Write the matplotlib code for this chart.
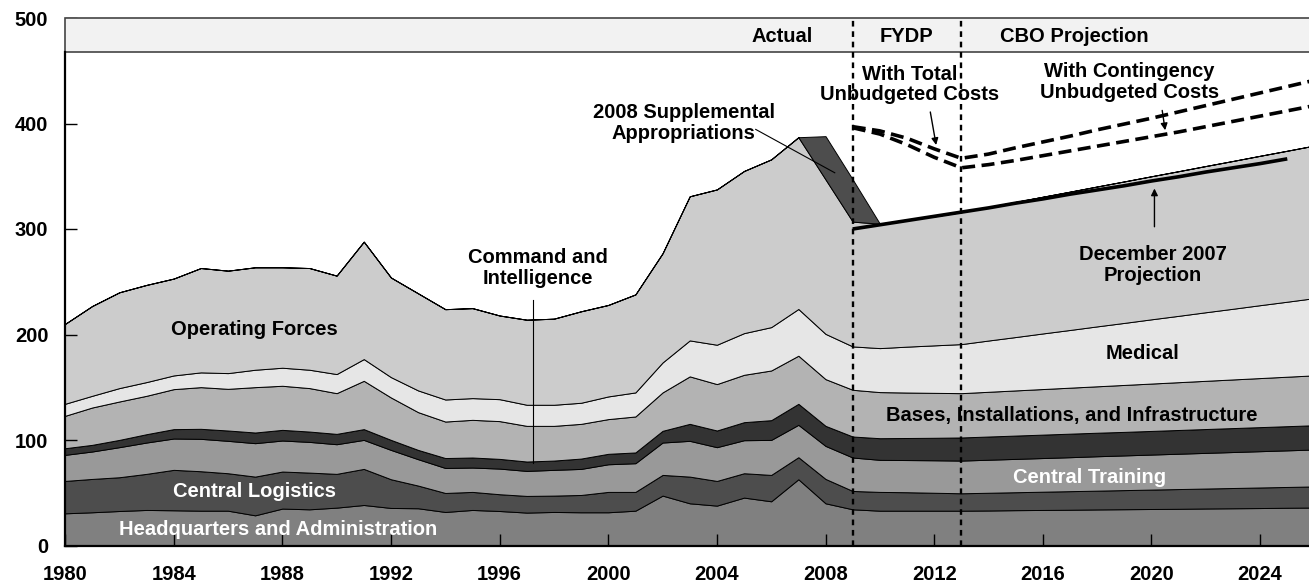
import matplotlib
matplotlib.use("Agg")
import matplotlib.pyplot as plt
from matplotlib.patches import Rectangle
import numpy as np

years = np.arange(1980, 2027)

# billions of dollars, by category (stacked bottom to top)
hq = [30.5, 31.5, 32.7, 33.7, 33.4, 33.0, 33.0, 28.6, 35.0, 34.3, 35.9, 38.4, 35.6, 35.3, 31.8,
      33.7, 32.7, 31.2, 31.8, 31.5, 31.5, 33.0, 47.3, 40.0, 37.8, 45.4, 41.9, 62.8, 40.0, 34.3,
      33.0, 33.0, 33.0, 33.0, 33.2, 33.5, 33.7, 33.9, 34.2, 34.4, 34.6, 34.8, 35.1, 35.3, 35.5,
      35.8, 36.0]
logistics = [30.7, 31.6, 32.0, 34.2, 38.3, 37.4, 35.5, 36.7, 35.1, 34.8, 32.0, 34.2, 27.2, 21.5, 18.0,
             17.1, 15.9, 15.8, 15.5, 16.4, 19.3, 17.8, 19.6, 25.3, 23.4, 23.1, 25.0, 20.9, 23.1, 17.4,
             17.8, 17.5, 17.0, 16.5, 16.8, 17.0, 17.3, 17.6, 17.8, 18.1, 18.4, 18.7, 18.9, 19.2, 19.5,
             19.7, 20.0]
training = [24.7, 26.0, 28.5, 29.7, 29.7, 30.7, 30.7, 31.7, 29.4, 29.1, 28.1, 27.5, 27.8, 25.0, 23.7,
            23.1, 24.3, 23.7, 24.4, 24.7, 26.2, 27.2, 30.7, 33.9, 32.0, 31.3, 33.2, 30.7, 31.3, 31.7,
            30.4, 30.5, 30.8, 31.0, 31.3, 31.6, 31.9, 32.2, 32.6, 32.9, 33.2, 33.5, 33.8, 34.1, 34.4,
            34.7, 35.0]
command = [6.3, 6.3, 6.9, 7.9, 8.9, 9.5, 9.8, 10.1, 10.1, 9.8, 9.8, 10.2, 9.5, 8.8, 9.4,
           9.5, 9.2, 8.9, 8.8, 9.8, 9.9, 10.2, 11.1, 16.1, 15.8, 17.1, 18.7, 19.9, 19.0, 19.9,
           20.5, 20.9, 21.3, 21.9, 22.0, 22.1, 22.2, 22.3, 22.3, 22.3, 22.4, 22.5, 22.6, 22.7, 22.8,
           22.9, 23.0]
bases = [30.7, 35.4, 36.4, 36.4, 37.9, 39.5, 39.5, 43.0, 41.8, 41.2, 38.6, 45.8, 40.2, 35.8, 34.6,
         35.7, 35.8, 33.8, 32.9, 32.9, 32.9, 34.1, 36.4, 45.0, 44.0, 44.9, 47.1, 45.6, 44.3, 44.3,
         43.7, 43.1, 42.6, 42.0, 42.4, 42.8, 43.2, 43.6, 44.0, 44.5, 44.9, 45.3, 45.7, 46.1, 46.5,
         46.9, 47.3]
medical = [11.4, 11.1, 12.7, 13.0, 13.0, 14.0, 14.9, 16.5, 17.1, 17.4, 18.1, 20.6, 19.3, 20.6, 20.9,
           20.6, 20.8, 20.0, 20.0, 20.0, 21.5, 22.8, 28.4, 34.1, 37.3, 39.5, 41.1, 44.3, 42.9, 41.1,
           41.7, 43.5, 45.0, 46.5, 48.6, 50.6, 52.7, 54.7, 56.8, 58.8, 60.9, 62.9, 65.0, 67.0, 69.1,
           71.1, 73.2]
operating = [75.7, 85.1, 90.8, 92.1, 91.8, 98.9, 97.1, 97.1, 95.2, 96.4, 93.3, 111.3, 94.4, 92.0, 85.6,
             85.3, 79.3, 80.6, 81.6, 86.7, 86.7, 92.9, 103.5, 136.6, 147.2, 153.7, 159.0, 162.8, 146.4, 118.3,
             117.9, 120.5, 122.3, 125.1, 126.6, 128.1, 129.6, 131.1, 132.6, 134.1, 135.6, 137.1, 138.6, 140.1, 141.6,
             143.1, 144.6]
supplemental = [0] * 28 + [41, 40] + [0] * 17

proj_years = np.arange(2009, 2026)
dec2007 = [300, 304, 308, 312, 316, 320, 324.5, 328.5, 333, 337, 341, 345.5, 349.5, 354, 358, 362, 366.5]

unb_years = np.arange(2009, 2027)
total_unbudgeted = [397, 393, 386, 376, 367, 371, 377, 382.5, 388, 394, 399.5, 405, 411, 417, 423, 429, 435, 441]
contingency_unbudgeted = [396, 390, 380, 368, 358, 361, 365, 369.5, 374, 378.5, 383, 387.5, 392, 397, 402, 407, 412, 417]

colors = ['#808080', '#4d4d4d', '#999999', '#333333', '#b3b3b3', '#e6e6e6', '#cccccc', '#4d4d4d']

plt.rcParams['font.family'] = ['Liberation Sans', 'DejaVu Sans']
plt.rcParams['font.weight'] = 'bold'
fs = 14.5

fig = plt.figure(figsize=(13.09, 5.83), dpi=100)
ax = fig.add_axes([65 / 1309, 1 - 545.5 / 583, 1 - 65 / 1309, (545.5 - 18) / 583])

ax.stackplot(years, hq, logistics, training, command, bases, medical, operating, supplemental,
             colors=colors, edgecolor='black', linewidth=0.7, zorder=1)

ax.plot(proj_years, dec2007, color='black', lw=2.6, solid_capstyle='butt', zorder=4)
ax.plot(unb_years, total_unbudgeted, color='black', lw=2.6, linestyle=(0, (3.6, 1.8)), zorder=4)
ax.plot(unb_years, contingency_unbudgeted, color='black', lw=2.6, linestyle=(0, (3.6, 1.8)), zorder=4)

# header band
ax.add_patch(Rectangle((1980, 468), 50, 32, facecolor='#f2f2f2', edgecolor='#444444', lw=1.2,
                       zorder=3, clip_on=False))
for xv in [2009, 2013]:
    ax.axvline(xv, color='black', lw=1.7, linestyle=(0, (2.4, 2.0)), zorder=5)

ax.set_xlim(1980, 2025.8)
ax.set_ylim(0, 500)
ax.set_xticks(range(1980, 2025, 4))
ax.set_yticks(range(0, 501, 100))
ax.tick_params(axis='both', direction='in', length=8.5, width=1, labelsize=fs)
ax.tick_params(axis='x', pad=14)
ax.tick_params(axis='y', pad=12)
for lab in ax.get_xticklabels() + ax.get_yticklabels():
    lab.set_fontweight('bold')
ax.spines['top'].set_visible(False)
ax.spines['right'].set_visible(False)
ax.spines['left'].set_bounds(0, 468)
ax.spines['left'].set_linewidth(1.6)
ax.spines['bottom'].set_linewidth(1.6)
ax.spines['left'].set_zorder(6)
ax.spines['bottom'].set_zorder(6)

kw = dict(ha='center', va='center', fontsize=fs, fontweight='bold', linespacing=1.1, zorder=7)
ax.text(2006.39, 482, 'Actual', **kw)
ax.text(2010.99, 482, 'FYDP', **kw)
ax.text(2017.17, 482, 'CBO Projection', **kw)

ax.text(2011.1, 437, 'With Total\nUnbudgeted Costs', **kw)
ax.annotate('', xy=(2012.09, 377), xytext=(2011.84, 413.5),
            arrowprops=dict(arrowstyle='-|>', color='black', lw=1, mutation_scale=10), zorder=7)
ax.text(2019.2, 439.5, 'With Contingency\nUnbudgeted Costs', **kw)
ax.annotate('', xy=(2020.52, 391), xytext=(2020.38, 415),
            arrowprops=dict(arrowstyle='-|>', color='black', lw=1, mutation_scale=10), zorder=7)

ax.text(2002.78, 400.7, '2008 Supplemental\nAppropriations', **kw)
ax.plot([2005.43, 2008.34], [394.4, 353.3], color='black', lw=0.8, zorder=7)

ax.text(1997.41, 263.1, 'Command and\nIntelligence', **kw)
ax.plot([1997.22, 1997.22], [233, 78.3], color='black', lw=0.8, zorder=7)

ax.text(2020.04, 266, 'December 2007\nProjection', **kw)
ax.annotate('', xy=(2020.11, 341), xytext=(2020.11, 299.5),
            arrowprops=dict(arrowstyle='-|>', color='black', lw=1, mutation_scale=10), zorder=7)

ax.text(1986.96, 204.6, 'Operating Forces', **kw)
ax.text(2019.68, 181.8, 'Medical', **kw)
ax.text(2017.06, 122.9, 'Bases, Installations, and Infrastructure', **kw)
ax.text(1986.96, 51.1, 'Central Logistics', color='white', **kw)
ax.text(2017.73, 64.1, 'Central Training', color='white', **kw)
ax.text(1987.84, 15.4, 'Headquarters and Administration', color='white', **kw)

fig.savefig('out.png', dpi=100)
